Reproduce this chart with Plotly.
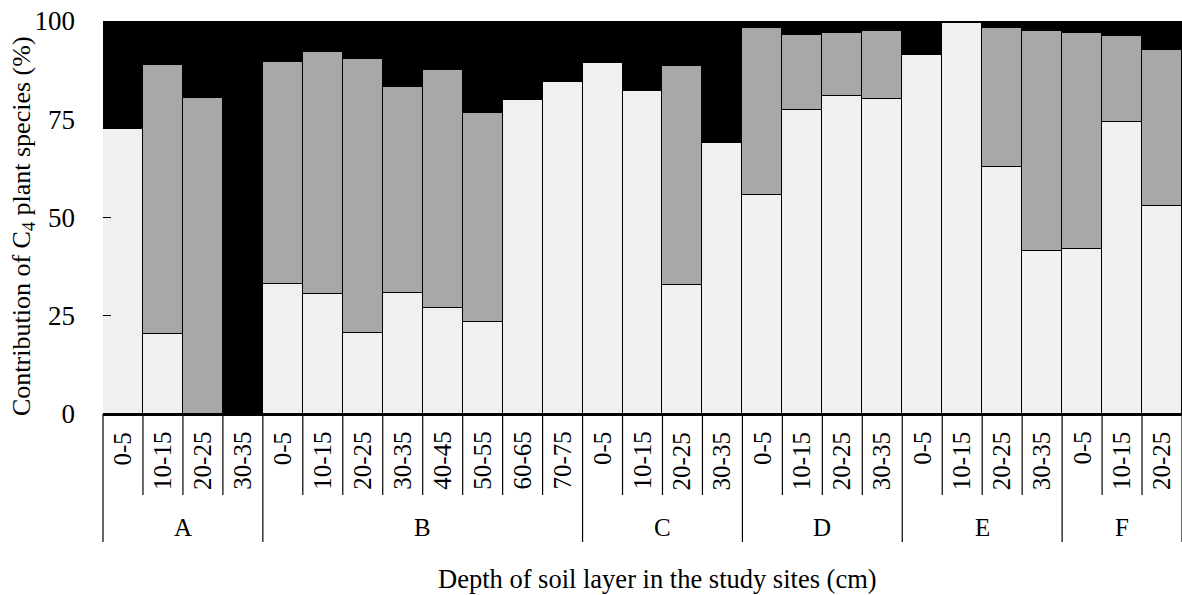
import plotly.graph_objects as go

# ---- data ----
sites = ["A", "A", "A", "A",
         "B", "B", "B", "B", "B", "B", "B", "B",
         "C", "C", "C", "C",
         "D", "D", "D", "D",
         "E", "E", "E", "E",
         "F", "F", "F"]
depths = ["0-5", "10-15", "20-25", "30-35",
          "0-5", "10-15", "20-25", "30-35", "40-45", "50-55", "60-65", "70-75",
          "0-5", "10-15", "20-25", "30-35",
          "0-5", "10-15", "20-25", "30-35",
          "0-5", "10-15", "20-25", "30-35",
          "0-5", "10-15", "20-25"]
light_vals = [72.5, 20.3, 0.0, 0.0,
              33.2, 30.5, 20.6, 30.9, 26.9, 23.5, 79.9, 84.5,
              89.3, 82.1, 32.9, 68.9,
              55.6, 77.3, 81.0, 80.2,
              91.4, 99.6, 62.9, 41.4,
              42.1, 74.4, 52.9]
gray_vals = [0.0, 68.4, 80.5, 0.0,
             56.4, 61.6, 69.8, 52.2, 60.7, 53.0, 0.0, 0.0,
             0.0, 0.0, 55.6, 0.0,
             42.6, 19.2, 16.0, 17.3,
             0.0, 0.0, 35.2, 56.0,
             54.9, 21.8, 39.6]
black_vals = [27.5, 11.3, 19.5, 100.0,
              10.4, 7.9, 9.6, 16.9, 12.4, 23.5, 20.1, 15.5,
              10.7, 17.9, 11.5, 31.1,
              1.8, 3.5, 3.0, 2.5,
              8.6, 0.4, 1.9, 2.6,
              3.0, 3.8, 7.5]
y_ticks = [0, 25, 50, 75, 100]
x_title = "Depth of soil layer in the study sites (cm)"
y_title = "Contribution of C<sub>4</sub> plant species (%)"

# ---- layout constants ----
W, H = 1182, 595
M_L, M_R, M_T, M_B = 103, 0, 21, 181
PLOT_W = W - M_L - M_R
PLOT_H = H - M_T - M_B
AXIS_Y = H - M_B
FONT = "Liberation Serif, Times New Roman, serif"
BLACK = "#000000"

keys = [f"{s} {d}" for s, d in zip(sites, depths)]
n = len(keys)

fig = go.Figure()
for vals, col in [(light_vals, "#f0f0f0"), (gray_vals, "#a8a8a8"), (black_vals, BLACK)]:
    fig.add_trace(go.Bar(
        x=keys, y=vals,
        marker=dict(color=col, line=dict(color=BLACK, width=1.5)),
        showlegend=False, hoverinfo="skip",
    ))


def py(px):
    """pixel row -> paper y"""
    return (AXIS_Y - px) / PLOT_H


def pxx(px):
    """pixel column -> paper x"""
    return (px - M_L) / PLOT_W


# group bookkeeping
group_order = []
for s in sites:
    if s not in group_order:
        group_order.append(s)
group_start = {g: sites.index(g) for g in group_order}
group_count = {g: sites.count(g) for g in group_order}
group_bounds = set(group_start.values()) | {n}

shapes = []
for b in range(n + 1):
    end_px = 542 if b in group_bounds else 495
    shapes.append(dict(
        type="line", xref="paper", yref="paper",
        x0=b / n, x1=b / n, y0=0, y1=py(end_px),
        line=dict(color=BLACK, width=1.2),
    ))

annotations = []
# depth labels (rotated, aligned at their top just under the axis)
for i, d in enumerate(depths):
    annotations.append(dict(
        x=keys[i], y=py(430), xref="x", yref="paper",
        text=d, textangle=-90, showarrow=False,
        xanchor="center", yanchor="top",
        font=dict(family=FONT, size=25, color=BLACK),
    ))
# site labels
for g in group_order:
    cx = (group_start[g] + group_count[g] / 2) / n
    annotations.append(dict(
        x=cx, y=py(527), xref="paper", yref="paper",
        text=g, showarrow=False, xanchor="center", yanchor="middle",
        font=dict(family=FONT, size=25, color=BLACK),
    ))
# axis titles
annotations.append(dict(
    x=pxx(657), y=py(579), xref="paper", yref="paper",
    text=x_title, showarrow=False, xanchor="center", yanchor="middle",
    font=dict(family=FONT, size=26.5, color=BLACK),
))
annotations.append(dict(
    x=pxx(23), y=py(226), xref="paper", yref="paper",
    text=y_title, textangle=-90, showarrow=False,
    xanchor="center", yanchor="middle",
    font=dict(family=FONT, size=26, color=BLACK),
))

fig.update_layout(
    width=W, height=H,
    margin=dict(l=M_L, r=M_R, t=M_T, b=M_B, autoexpand=False),
    barmode="stack", bargap=0,
    paper_bgcolor="#ffffff", plot_bgcolor="#ffffff",
    font=dict(family=FONT, size=25, color=BLACK),
    shapes=shapes, annotations=annotations,
    xaxis=dict(
        type="category", categoryorder="array", categoryarray=keys,
        showticklabels=False, ticks="",
        showline=True, linecolor=BLACK, linewidth=1.5,
        showgrid=False, zeroline=False, range=[-0.5, n - 0.5],
        automargin=False,
    ),
    yaxis=dict(
        range=[0, 100], tickmode="array", tickvals=y_ticks,
        ticks="inside", ticklen=8, tickwidth=1.2, tickcolor=BLACK,
        ticklabelstandoff=27,
        tickfont=dict(family=FONT, size=27, color=BLACK),
        showline=False, showgrid=False, zeroline=False,
        automargin=False,
    ),
)

fig.write_html("out.html")
